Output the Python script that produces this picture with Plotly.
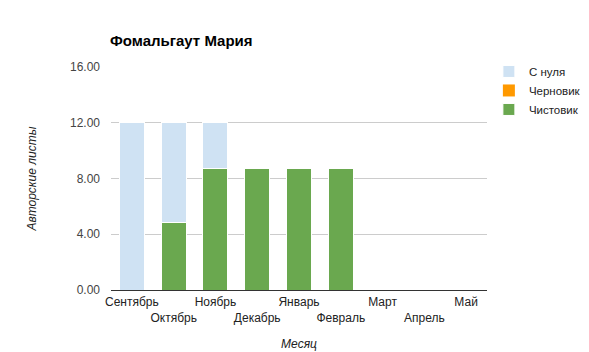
import plotly.graph_objects as go

months = ["Сентябрь", "Октябрь", "Ноябрь", "Декабрь", "Январь", "Февраль", "Март", "Апрель", "Май"]
s_nulya = [12.0, 7.15, 3.3, 0, 0, 0, 0, 0, 0]
chernovik = [0, 0, 0, 0, 0, 0, 0, 0, 0]
chistovik = [0, 4.85, 8.7, 8.7, 8.7, 8.7, 0, 0, 0]
yticks = [0, 4, 8, 12, 16]

ticktext = [m if i % 2 == 0 else "<br>" + m for i, m in enumerate(months)]

fig = go.Figure()
fig.add_trace(go.Bar(x=months, y=chistovik, name="Чистовик", marker=dict(color="#6aa84f", line=dict(color="white", width=1))))
fig.add_trace(go.Bar(x=months, y=chernovik, name="Черновик", marker=dict(color="#ff9900", line=dict(color="white", width=0))))
fig.add_trace(go.Bar(x=months, y=s_nulya, name="С нуля", marker=dict(color="#cfe2f3", line=dict(color="white", width=1))))

font = "Arial, Liberation Sans, sans-serif"
fig.update_layout(
    barmode="stack",
    bargap=0.4,
    width=589, height=352,
    margin=dict(l=111, r=102, t=67, b=62, autoexpand=False),
    paper_bgcolor="white", plot_bgcolor="white",
    font=dict(family=font, size=12, color="#444"),
    title=dict(text="<b>Фомальгаут Мария</b>", x=110/589, xanchor="left", y=1-41/352, yanchor="middle",
               font=dict(family=font, size=15, color="black")),
    legend=dict(x=1.005, y=1.045, xanchor="left", yanchor="top", traceorder="reversed",
                font=dict(family=font, size=11.5, color="#222"), itemwidth=30, tracegroupgap=0),
    showlegend=True,
)
fig.update_xaxes(tickvals=months, ticktext=ticktext, showgrid=False, showline=False, tickangle=0,
                 automargin=False, ticklabelstandoff=3,
                 tickfont=dict(size=12, color="#222"),
                 title=dict(text="<i>Месяц</i>", font=dict(size=12, color="#222"), standoff=16))
fig.update_yaxes(range=[0, 16], tickvals=yticks, ticktext=[f"{v:.2f}" for v in yticks], automargin=False,
                 showgrid=True, gridcolor="#cccccc", zeroline=True, zerolinecolor="#333", zerolinewidth=1,
                 tickfont=dict(size=12, color="#444"), ticklen=0, ticks="", ticklabelstandoff=10,
                 title=dict(text="<i>Авторские листы</i>", font=dict(size=12, color="#222"), standoff=30))

fig.write_html("out.html")
